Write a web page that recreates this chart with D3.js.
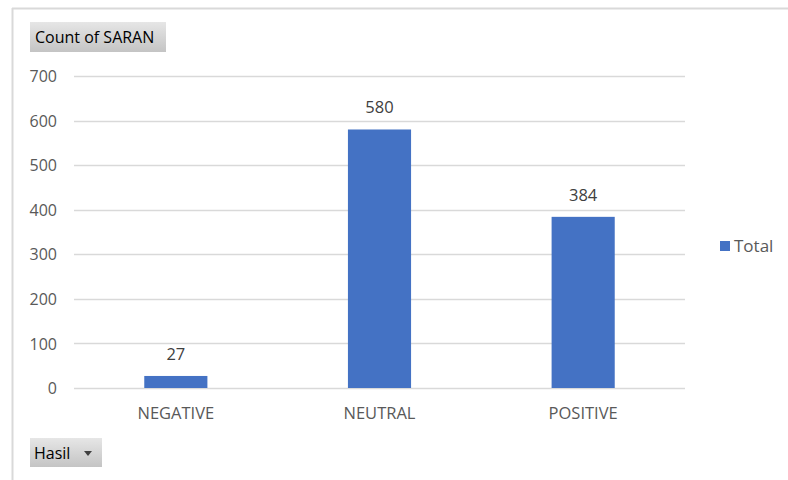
<!DOCTYPE html>
<html><head><meta charset="utf-8">
<script src="https://cdn.jsdelivr.net/npm/d3@7"></script>
<style>body{margin:0;background:#fff;}svg{display:block;font-family:"Open Sans","Noto Sans",sans-serif;}</style>
</head><body><svg id="c" width="788" height="480"></svg>
<script>
const categories = ["NEGATIVE", "NEUTRAL", "POSITIVE"];
const values = [27, 580, 384];
const yTicks = [0, 100, 200, 300, 400, 500, 600, 700];
const seriesName = "Total";
const fieldTitle = "Count of SARAN";
const rowField = "Hasil";

const svg = d3.select("#c");
const defs = svg.append("defs");
const g1 = defs.append("linearGradient").attr("id","btn").attr("x1",0).attr("y1",0).attr("x2",0).attr("y2",1);
g1.append("stop").attr("offset","0%").attr("stop-color","#e6e6e6");
g1.append("stop").attr("offset","100%").attr("stop-color","#c4c4c4");

// outer frame
svg.append("line").attr("x1",12).attr("x2",788).attr("y1",8.5).attr("y2",8.5).attr("stroke","#d9d9d9").attr("stroke-width",2);
svg.append("line").attr("x1",12.5).attr("x2",12.5).attr("y1",8).attr("y2",480).attr("stroke","#d9d9d9").attr("stroke-width",2);

const x = d3.scaleBand().domain(categories).range([74, 685]).paddingInner(0.69).paddingOuter(0.345);
const y = d3.scaleLinear().domain([0, 700]).range([388, 76]);

// gridlines
svg.append("g").selectAll("line").data(yTicks).join("line")
  .attr("x1",74).attr("x2",685).attr("y1",d=>Math.round(y(d))+0.5).attr("y2",d=>Math.round(y(d))+0.5)
  .attr("stroke","#d9d9d9").attr("stroke-width",1.5);

// y axis labels
const yAxis = d3.axisLeft(y).tickValues(yTicks).tickSize(0).tickPadding(0);
const ya = svg.append("g").attr("transform","translate(57,0)").call(yAxis);
ya.select(".domain").remove();
ya.selectAll("text").attr("font-size",16).attr("fill","#595959").attr("font-family","'Open Sans','Noto Sans',sans-serif").attr("dy","0.35em");

// bars
svg.append("g").selectAll("rect").data(values).join("rect")
  .attr("x",(d,i)=>x(categories[i])).attr("width",x.bandwidth())
  .attr("y",d=>y(d)).attr("height",d=>y(0)-y(d)).attr("fill","#4472c4");

// value labels
svg.append("g").selectAll("text").data(values).join("text")
  .attr("x",(d,i)=>x(categories[i])+x.bandwidth()/2).attr("y",d=>y(d)-22)
  .attr("text-anchor","middle").attr("dy","0.35em").attr("font-size",16.5).attr("fill","#404040").text(d=>d);

// x axis labels
const xAxis = d3.axisBottom(x).tickSize(0).tickPadding(0);
const xa = svg.append("g").attr("transform","translate(0,413)").call(xAxis);
xa.select(".domain").remove();
xa.selectAll("text").attr("font-size",16.5).attr("fill","#595959").attr("font-family","'Open Sans','Noto Sans',sans-serif").attr("dy","0.35em");

// legend
svg.append("rect").attr("x",720).attr("y",241).attr("width",10).attr("height",10).attr("fill","#4472c4");
svg.append("text").attr("x",734).attr("y",246).attr("dy","0.35em").attr("font-size",17).attr("fill","#595959").text(seriesName);

// field buttons
svg.append("rect").attr("x",30).attr("y",22).attr("width",136).attr("height",30).attr("fill","url(#btn)");
svg.append("text").attr("x",35).attr("y",37).attr("dy","0.35em").attr("font-size",16).attr("fill","#000").text(fieldTitle);
svg.append("rect").attr("x",30).attr("y",438).attr("width",72).attr("height",29).attr("fill","url(#btn)");
svg.append("text").attr("x",34).attr("y",453).attr("dy","0.35em").attr("font-size",16).attr("fill","#000").text(rowField);
svg.append("path").attr("d","M84,451 L92,451 L88,456 Z").attr("fill","#404040");
</script></body></html>
